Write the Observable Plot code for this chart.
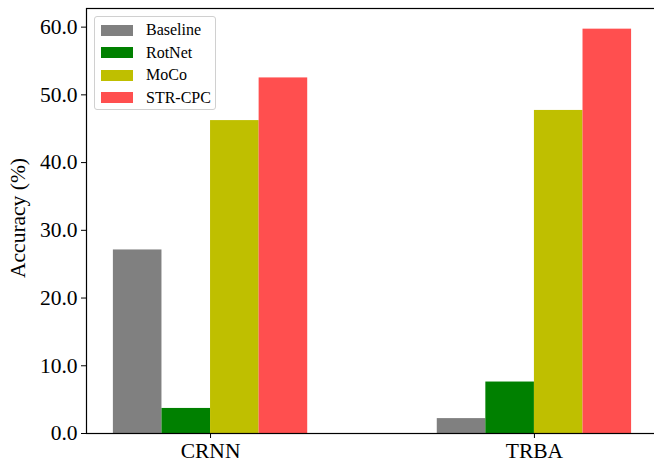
<!DOCTYPE html>
<html>
<head>
<meta charset="utf-8">
<script src="https://cdn.jsdelivr.net/npm/d3@7"></script>
<script src="https://cdn.jsdelivr.net/npm/@observablehq/plot@0.6"></script>
<style>
  html, body { margin: 0; padding: 0; background: white; overflow: hidden; }
  #wrap { position: relative; width: 654px; height: 464px; }
  #legend {
    position: absolute; left: 94px; top: 16px; width: 122px; height: 94px;
    border: 1px solid #d0d0d0; border-radius: 3px; background: rgba(255,255,255,0.8);
    font-family: "Liberation Serif", "Times New Roman", serif; font-size: 16px; color: #000;
    box-sizing: border-box;
  }
  .row { position: absolute; left: 0; height: 22px; display: flex; align-items: center; }
  .sw { width: 32px; height: 11px; margin-left: 6px; margin-right: 13px; }
</style>
</head>
<body>
<div id="wrap"><div id="legend"></div></div>
<script>
const groups = ["CRNN", "TRBA"];
const series = ["Baseline", "RotNet", "MoCo", "STR-CPC"];
const baseline = [27.1, 2.2];
const rotnet = [3.7, 7.6];
const moco = [46.2, 47.7];
const strcpc = [52.5, 59.7];
const colors = ["#808080", "#008000", "#bfbf00", "#ff4f4f"];
const yTicks = [0, 10, 20, 30, 40, 50, 60];
const yLabel = "Accuracy (%)";

const values = [baseline, rotnet, moco, strcpc];
const barW = 0.15;
const rows = [];
groups.forEach((g, gi) => {
  series.forEach((s, si) => {
    const x1 = gi + (si - series.length / 2) * barW;
    rows.push({group: g, series: s, value: values[si][gi], x1, x2: x1 + barW});
  });
});

const font = '"Liberation Serif", "Times New Roman", serif';
const chart = Plot.plot({
  width: 654,
  height: 464,
  marginLeft: 86,
  marginRight: -3,
  marginTop: 8,
  marginBottom: 31,
  style: {fontFamily: font, fontSize: "21.5px", color: "#000", background: "white"},
  x: {domain: [-0.383, 1.38], ticks: [0, 1], tickFormat: i => groups[i], tickSize: 5, tickPadding: 4, label: null},
  y: {domain: [0, 62.75], ticks: yTicks, tickFormat: d3.format(".1f"), tickSize: 5, tickPadding: 4, label: null},
  color: {domain: series, range: colors},
  marks: [
    Plot.rectY(rows, {x1: "x1", x2: "x2", y: "value", fill: "series"}),
    Plot.frame({stroke: "black", strokeWidth: 1.2}),
    Plot.text([yLabel], {text: d => d, frameAnchor: "left", rotate: -90, dx: -68, dy: -3,
      textAnchor: "middle", fontSize: 21.5, fill: "black"})
  ]
});
document.getElementById("wrap").prepend(chart);
chart.style.position = "absolute";
chart.style.left = "0px";
chart.style.top = "0px";
chart.style.maxWidth = "none";

const legend = document.getElementById("legend");
series.forEach((s, i) => {
  const r = document.createElement("div");
  r.className = "row";
  r.style.top = (2 + i * 22.5) + "px";
  const sw = document.createElement("div");
  sw.className = "sw";
  sw.style.background = colors[i];
  const t = document.createElement("span");
  t.textContent = s;
  r.appendChild(sw);
  r.appendChild(t);
  legend.appendChild(r);
});
</script>
</body>
</html>
